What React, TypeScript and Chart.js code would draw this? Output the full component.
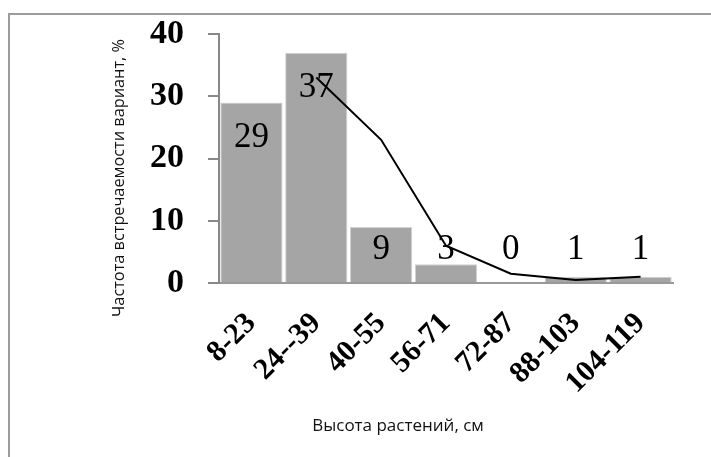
import React, { useEffect, useRef } from "react";
import { Chart, registerables } from "chart.js";

Chart.register(...registerables);

const categories = ["8-23", "24--39", "40-55", "56-71", "72-87", "88-103", "104-119"];
const frequencies = [29, 37, 9, 3, 0, 1, 1];
const trendValues = [null, 33, 23, 6, 1.5, 0.5, 1];
const yTicks = [0, 10, 20, 30, 40];
const yTitle = "Частота встречаемости вариант, %";
const xTitle = "Высота растений, см";

const W = 711;
const H = 457;
const AREA = { left: 219, right: 673, top: 34, bottom: 283 };

const labelsPlugin = {
  id: "barLabels",
  afterDatasetsDraw(chart: any) {
    const ctx = chart.ctx;
    const idx = chart.data.datasets.findIndex((d: any) => d.type === "bar");
    const meta = chart.getDatasetMeta(idx);
    const yScale = chart.scales.y;
    const base = yScale.getPixelForValue(0);
    ctx.save();
    ctx.font = "35px 'Liberation Serif'";
    ctx.fillStyle = "#000";
    ctx.textAlign = "center";
    ctx.textBaseline = "middle";
    meta.data.forEach((bar: any, i: number) => {
      const y = Math.min(bar.y + 35, base - 33);
      ctx.fillText(String(frequencies[i]), bar.x, y);
    });
    ctx.restore();
  },
};

const titlesPlugin = {
  id: "axisTitles",
  afterDraw(chart: any) {
    const ctx = chart.ctx;
    ctx.save();
    ctx.fillStyle = "#111";
    ctx.textAlign = "center";
    ctx.textBaseline = "middle";
    ctx.font = "17px 'Open Sans'";
    ctx.fillText(xTitle, 398, 426);
    ctx.font = "16.3px 'Open Sans'";
    ctx.translate(119, 178);
    ctx.rotate(-Math.PI / 2);
    ctx.fillText(yTitle, 0, 0);
    ctx.restore();
  },
};

export default function App() {
  const ref = useRef<HTMLCanvasElement | null>(null);

  useEffect(() => {
    if (!ref.current) return;
    const chart = new Chart(ref.current, {
      type: "bar",
      data: {
        labels: categories,
        datasets: [
          {
            type: "line",
            data: trendValues as any,
            borderColor: "#000",
            borderWidth: 2,
            pointRadius: 0,
            tension: 0,
            fill: false,
            order: 0,
          } as any,
          {
            type: "bar",
            data: frequencies,
            backgroundColor: "#a5a5a5",
            borderColor: "#d2d2d2",
            borderWidth: 1,
            barPercentage: 0.96,
            categoryPercentage: 1,
            order: 1,
          } as any,
        ],
      },
      options: {
        responsive: false,
        animation: false,
        devicePixelRatio: 1,
        layout: {
          padding: { left: 20, right: W - AREA.right, top: AREA.top, bottom: 0 },
        },
        plugins: {
          legend: { display: false },
          tooltip: { enabled: false },
        },
        scales: {
          x: {
            offset: true,
            grid: { display: false, drawTicks: false },
            border: { display: true, color: "#999", width: 2 },
            ticks: {
              autoSkip: false,
              maxRotation: 45,
              minRotation: 45,
              padding: 23,
              color: "#000",
              font: { family: "'Liberation Serif'", size: 30, weight: "bold" },
            },
            afterFit(scale: any) {
              scale.height = H - AREA.bottom;
              scale.paddingLeft = 0;
              scale.paddingRight = 0;
            },
          },
          y: {
            min: 0,
            max: 40,
            afterBuildTicks(scale: any) {
              scale.ticks = yTicks.map((v) => ({ value: v }));
            },
            grid: { drawOnChartArea: false, drawTicks: true, tickLength: 11, color: "#888", lineWidth: 2 },
            border: { display: true, color: "#888", width: 2 },
            ticks: {
              padding: 24,
              color: "#000",
              font: { family: "'Liberation Serif'", size: 34, weight: "bold" },
            },
            afterFit(scale: any) {
              scale.width = AREA.left - 20;
              scale.paddingTop = 0;
              scale.paddingBottom = 0;
            },
          },
        },
      },
      plugins: [labelsPlugin, titlesPlugin],
    });
    return () => chart.destroy();
  }, []);

  return (
    <div style={{ position: "fixed", left: 0, top: 0, width: W, height: H, overflow: "hidden", background: "#fff" }}>
      <div
        style={{
          position: "absolute",
          left: 8,
          top: 13,
          width: W + 20,
          height: H + 20,
          border: "2px solid #9c9c9c",
          boxSizing: "border-box",
        }}
      />
      <canvas
        ref={ref}
        width={W}
        height={H}
        style={{ position: "absolute", left: 0, top: 0, width: W, height: H }}
      />
    </div>
  );
}
